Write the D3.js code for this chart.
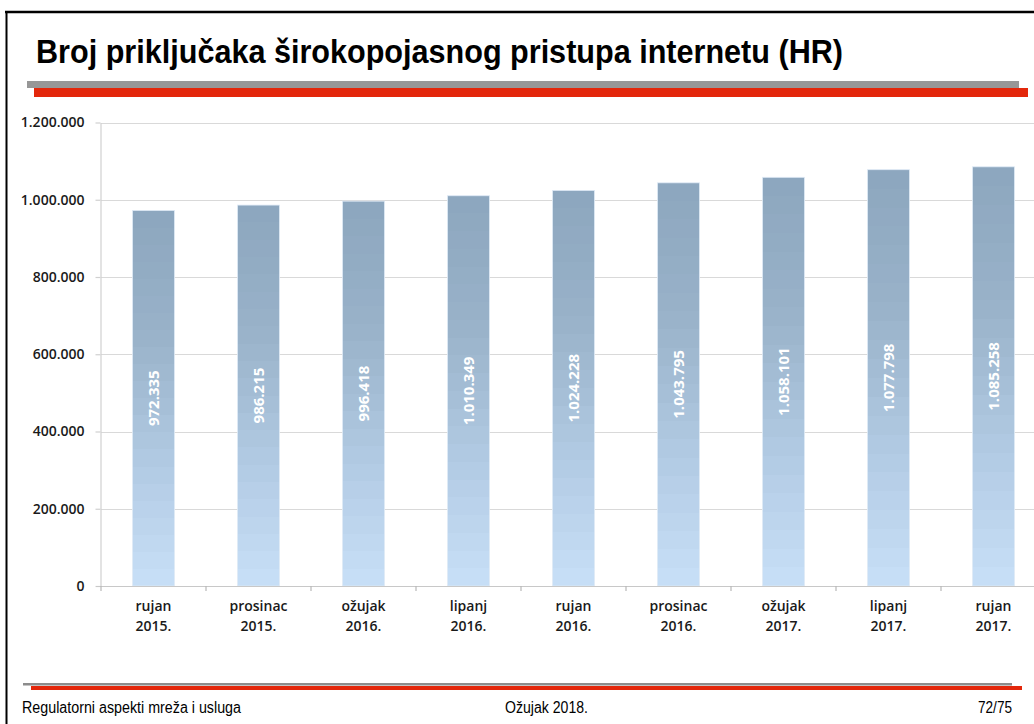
<!DOCTYPE html>
<html lang="hr">
<head>
<meta charset="utf-8">
<title>Broj priključaka širokopojasnog pristupa internetu (HR)</title>
<script src="https://cdn.jsdelivr.net/npm/d3@7"></script>
<style>
  html, body { margin: 0; padding: 0; background: #fff; }
  svg { display: block; }
</style>
</head>
<body>
<svg id="slide" width="1034" height="724"></svg>
<script>
// Quarterly broadband connections in Croatia
const months = ["rujan", "prosinac", "ožujak", "lipanj", "rujan", "prosinac", "ožujak", "lipanj", "rujan"];
const years = ["2015.", "2015.", "2016.", "2016.", "2016.", "2016.", "2017.", "2017.", "2017."];
const connections = [972335, 986215, 996418, 1010349, 1024228, 1043795, 1058101, 1077798, 1085258];
const yTicks = [0, 200000, 400000, 600000, 800000, 1000000, 1200000];

const titleText = "Broj priključaka širokopojasnog pristupa internetu (HR)";
const footerLeft = "Regulatorni aspekti mreža i usluga";
const footerMid = "Ožujak 2018.";
const footerRight = "72/75";

const categories = months.map((m, i) => m + " " + years[i]);
const rows = categories.map((c, i) => ({ key: c, month: months[i], year: years[i], value: connections[i] }));

const hr = d3.formatLocale({ decimal: ",", thousands: ".", grouping: [3], currency: ["", " kn"] });
const fmt = hr.format(",d");

const svg = d3.select("#slide");
const W = 1034, H = 724;

// ---- slide frame and header ----
svg.append("line").attr("x1", 5).attr("x2", W).attr("y1", 12).attr("y2", 12)
  .attr("stroke", "#000").attr("stroke-width", 2.5);
svg.append("line").attr("x1", 6.5).attr("x2", 6.5).attr("y1", 11).attr("y2", H)
  .attr("stroke", "#000").attr("stroke-width", 2);

svg.append("text")
  .attr("x", 36).attr("y", 63)
  .attr("font-family", "'Liberation Sans Narrow', 'Liberation Sans', Arial, sans-serif")
  .attr("font-weight", "bold").attr("font-size", 34)
  .attr("textLength", 807).attr("lengthAdjust", "spacingAndGlyphs")
  .attr("fill", "#000")
  .text(titleText);

svg.append("rect").attr("x", 27).attr("y", 81).attr("width", 992).attr("height", 7).attr("fill", "#979797");
svg.append("rect").attr("x", 34).attr("y", 88).attr("width", 994).attr("height", 9).attr("fill", "#e3270b");

// ---- chart ----
const x = d3.scaleBand().domain(categories).range([101, 1046]).paddingInner(0.6).paddingOuter(0.3);
const y = d3.scaleLinear().domain([0, 1200000]).range([586, 122.5]);
const step = x.step();
const gap = (step - x.bandwidth()) / 2;

const chart = svg.append("g").attr("font-family", "'Open Sans', 'DejaVu Sans', sans-serif");

// horizontal gridlines
chart.append("g").selectAll("line").data(yTicks.filter(d => d > 0)).join("line")
  .attr("x1", 101).attr("x2", W)
  .attr("y1", d => Math.round(y(d)) + 0.5).attr("y2", d => Math.round(y(d)) + 0.5)
  .attr("stroke", "#d9d9d9").attr("stroke-width", 1.2);

// y axis
const yAxis = chart.append("g").attr("transform", "translate(100.5,0)")
  .call(d3.axisLeft(y).tickValues(yTicks).tickSize(5).tickSizeOuter(0).tickPadding(11)
    .tickFormat(d => fmt(d)));
yAxis.select(".domain").attr("stroke", "#d0d0d0").attr("stroke-width", 1.2);
yAxis.selectAll(".tick line").attr("stroke", "#d0d0d0").attr("stroke-width", 1.2);
yAxis.selectAll(".tick text").attr("font-size", 14).attr("font-weight", 600).attr("fill", "#1a1a1a")
  .attr("font-family", "'Open Sans', sans-serif");

// bar gradient with stepped bands
const defs = svg.append("defs");
const grad = defs.append("linearGradient").attr("id", "barFill")
  .attr("x1", 0).attr("y1", 0).attr("x2", 0).attr("y2", 1);
const colorAt = d3.scaleLinear().domain([0, 0.35, 0.7, 1])
  .range(["#8ca6be", "#9ab3ca", "#b3cce5", "#c8e0f7"]).interpolate(d3.interpolateRgb);
const nBands = 22;
for (let i = 0; i < nBands; i++) {
  const c = colorAt((i + 0.5) / nBands);
  grad.append("stop").attr("offset", i / nBands).attr("stop-color", c);
  grad.append("stop").attr("offset", (i + 1) / nBands).attr("stop-color", c);
}

chart.append("g").selectAll("rect").data(rows).join("rect")
  .attr("x", d => x(d.key)).attr("width", x.bandwidth())
  .attr("y", d => y(d.value)).attr("height", d => y(0) - y(d.value))
  .attr("fill", "url(#barFill)")
  .attr("stroke", "#dfeaf6").attr("stroke-width", 0.8);

// value labels inside bars
chart.append("g").selectAll("text").data(rows).join("text")
  .attr("transform", d => `translate(${x(d.key) + x.bandwidth() / 2},${(y(d.value) + y(0)) / 2}) rotate(-90)`)
  .attr("text-anchor", "middle").attr("dy", "0.36em")
  .attr("font-size", 15).attr("font-weight", "bold").attr("fill", "#fff")
  .text(d => fmt(d.value));

// x axis baseline with boundary ticks
chart.append("line").attr("x1", 96).attr("x2", W)
  .attr("y1", 586.5).attr("y2", 586.5).attr("stroke", "#c8c8c8").attr("stroke-width", 1.2);
chart.append("g").selectAll("line").data(categories).join("line")
  .attr("x1", d => x(d) - gap).attr("x2", d => x(d) - gap)
  .attr("y1", 586).attr("y2", 591)
  .attr("stroke", "#b8b8b8").attr("stroke-width", 1.2);

// category labels (two lines)
const xl = chart.append("g").selectAll("text").data(rows).join("text")
  .attr("text-anchor", "middle").attr("font-size", 14).attr("font-weight", 600).attr("fill", "#1a1a1a");
xl.append("tspan").attr("x", d => x(d.key) + x.bandwidth() / 2).attr("y", 611).text(d => d.month);
xl.append("tspan").attr("x", d => x(d.key) + x.bandwidth() / 2).attr("y", 631).text(d => d.year);

// ---- footer ----
svg.append("rect").attr("x", 23).attr("y", 683).attr("width", 989).attr("height", 2.5).attr("fill", "#8c8c8c");
svg.append("rect").attr("x", 31).attr("y", 686).attr("width", 991).attr("height", 4).attr("fill", "#e3270b");

const foot = svg.append("g").attr("font-family", "'Liberation Sans Narrow', 'Liberation Sans', Arial, sans-serif")
  .attr("font-size", 16).attr("fill", "#000");
foot.append("text").attr("x", 22).attr("y", 713).attr("textLength", 219).attr("lengthAdjust", "spacingAndGlyphs").text(footerLeft);
foot.append("text").attr("x", 505).attr("y", 713).attr("textLength", 83).attr("lengthAdjust", "spacingAndGlyphs").text(footerMid);
foot.append("text").attr("x", 978).attr("y", 713).attr("textLength", 34).attr("lengthAdjust", "spacingAndGlyphs").text(footerRight);
</script>
</body>
</html>
